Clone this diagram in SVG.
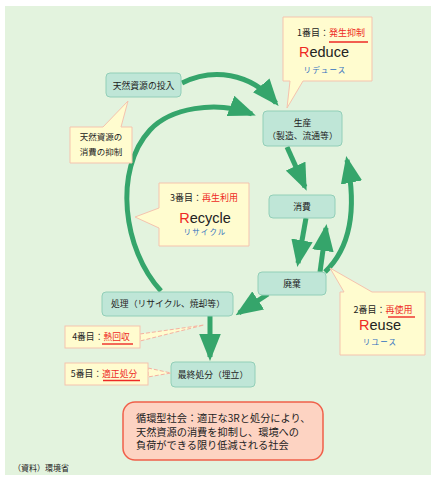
<svg xmlns="http://www.w3.org/2000/svg" width="433" height="480" viewBox="0 0 433 480">
<style>
.jp{font-family:"Noto Sans CJK JP","Liberation Sans",sans-serif;fill:#222}
.node rect{fill:#bfe6d7;stroke:#92cfb8;stroke-width:1}
.call{fill:#fffccf;stroke:#f5c3ae;stroke-width:1}
.nt{font-size:8.8px;text-anchor:middle}
.red{fill:#ee2a24}
.blue{fill:#2f6fc0}
.ul{stroke:#ee2a24;stroke-width:1.4}
.big{font-family:"Liberation Sans",Arial,sans-serif;font-size:14.5px;fill:#222;text-anchor:middle}
.arr{fill:none;stroke:#35a56b;stroke-width:5}
.wedge{fill:#fffccf;stroke:#f5b0a0;stroke-width:1;stroke-dasharray:4 2}
</style>
<defs>
<marker id="ah" viewBox="0 0 10 8" refX="8.5" refY="4" markerWidth="5.4" markerHeight="4.4" orient="auto" markerUnits="strokeWidth">
<path d="M0,0 L10,4 L0,8 z" fill="#35a56b"/>
</marker>
</defs>
<rect x="0" y="0" width="433" height="480" fill="#ffffff"/>
<rect x="5" y="6" width="426" height="469" fill="#e3f3de"/>

<g id="connectors">
<path class="arr" d="M182,83 C212,68 250,72 276,103" marker-end="url(#ah)"/>
<path class="arr" d="M161,291 C123,250 113,170 150,130 C170,108.4 215,100 252,114" marker-end="url(#ah)"/>
<path class="arr" d="M287,147 L305,187" marker-end="url(#ah)"/>
<path class="arr" d="M325,272 C348,250 358,215 347,160" marker-end="url(#ah)"/>
<path class="arr" d="M306,218 L298,263" marker-end="url(#ah)"/>
<path class="arr" d="M320,272 L326,228" marker-end="url(#ah)"/>
<path class="arr" d="M268,294 L239,313" marker-end="url(#ah)"/>
<path class="arr" d="M210,316 L210,357" marker-end="url(#ah)"/>
</g>

<g id="callout-reduce">
<path class="call" d="M283,17 H372 V81 H303 L287,108 L290,81 H283 Z"/>
<text class="jp" x="331" y="36" font-size="9" text-anchor="middle">1番目：<tspan class="red">発生抑制</tspan></text>
<line class="ul" x1="329" y1="42" x2="368" y2="42"/>
<text class="big" x="324" y="57"><tspan class="red">R</tspan>educe</text>
<text class="jp blue" x="325" y="73" font-size="7.5" text-anchor="middle" letter-spacing="1.2">リデュース</text>
</g>

<g id="callout-resource">
<path class="call" d="M70,127 H103 L128,101 L121,127 H132 V163 H70 Z"/>
<text class="jp" x="101" y="140" font-size="8.5" text-anchor="middle">天然資源の</text>
<text class="jp" x="101" y="155" font-size="8.5" text-anchor="middle">消費の抑制</text>
</g>

<g id="callout-recycle">
<path class="call" d="M159,183 H249 V246 H159 V228 L135,217 L159,208 Z"/>
<text class="jp" x="204" y="201" font-size="9" text-anchor="middle">3番目：<tspan class="red">再生利用</tspan></text>
<text class="big" x="205" y="223"><tspan class="red">R</tspan>ecycle</text>
<text class="jp blue" x="205" y="235" font-size="7.5" text-anchor="middle" letter-spacing="1.2">リサイクル</text>
</g>

<g id="callout-reuse">
<path class="call" d="M340,292 H344 L330,268 L372,292 H425 V355 H340 Z"/>
<text class="jp" x="383" y="313" font-size="9" text-anchor="middle">2番目：<tspan class="red">再使用</tspan></text>
<line class="ul" x1="388" y1="317" x2="415" y2="317"/>
<text class="big" x="380" y="330"><tspan class="red">R</tspan>euse</text>
<text class="jp blue" x="380" y="345" font-size="7.5" text-anchor="middle" letter-spacing="1.2">リユース</text>
</g>

<g id="n-input" class="node">
<rect x="106" y="73" width="75" height="24" rx="4"/>
<text class="jp nt" x="143.5" y="88.5">天然資源の投入</text>
</g>

<g id="n-production" class="node">
<rect x="263" y="111" width="79" height="35" rx="4"/>
<text class="jp nt" x="302.5" y="126">生産</text>
<text class="jp nt" x="302.5" y="139" font-size="8.2px">（製造、流通等）</text>
</g>

<g id="n-consumption" class="node">
<rect x="269" y="195" width="66" height="23" rx="4"/>
<text class="jp nt" x="302" y="209.5">消費</text>
</g>

<g id="n-disposal" class="node">
<rect x="258" y="272" width="68" height="23" rx="4"/>
<text class="jp nt" x="292" y="286.5">廃棄</text>
</g>

<g id="n-treatment" class="node">
<rect x="102" y="292" width="131" height="24" rx="4"/>
<text class="jp nt" x="168" y="307">処理（リサイクル、焼却等）</text>
</g>

<g id="n-final" class="node">
<rect x="171" y="362" width="84" height="25" rx="4"/>
<text class="jp nt" x="213" y="377.5">最終処分（埋立）</text>
</g>

<g id="callout-heat">
<polygon class="wedge" points="140,334 204,325 140,341"/>
<rect class="call" x="65" y="326" width="75" height="22"/>
<text class="jp" x="101" y="340" font-size="8.8" text-anchor="middle">4番目：<tspan class="red">熱回収</tspan></text>
<line class="ul" x1="102" y1="344" x2="133" y2="344"/>
</g>

<g id="callout-proper">
<polygon class="wedge" points="148,368 171,373 148,377"/>
<rect class="call" x="65" y="363" width="83" height="22"/>
<text class="jp" x="104" y="377" font-size="8.8" text-anchor="middle">5番目：<tspan class="red">適正処分</tspan></text>
<line class="ul" x1="103" y1="380.5" x2="140" y2="380.5"/>
</g>

<g id="summary">
<rect x="123" y="402" width="200" height="58" rx="12" fill="#fdd3c2" stroke="#f0604a" stroke-width="1.5"/>
<text class="jp" x="136" y="422" font-size="10.2">循環型社会：適正な3Rと処分により、</text>
<text class="jp" x="136" y="435.5" font-size="10.2">天然資源の消費を抑制し、環境への</text>
<text class="jp" x="136" y="449" font-size="10.2">負荷ができる限り低減される社会</text>
</g>

<text class="jp" x="13" y="471" font-size="8">（資料）環境省</text>
</svg>
